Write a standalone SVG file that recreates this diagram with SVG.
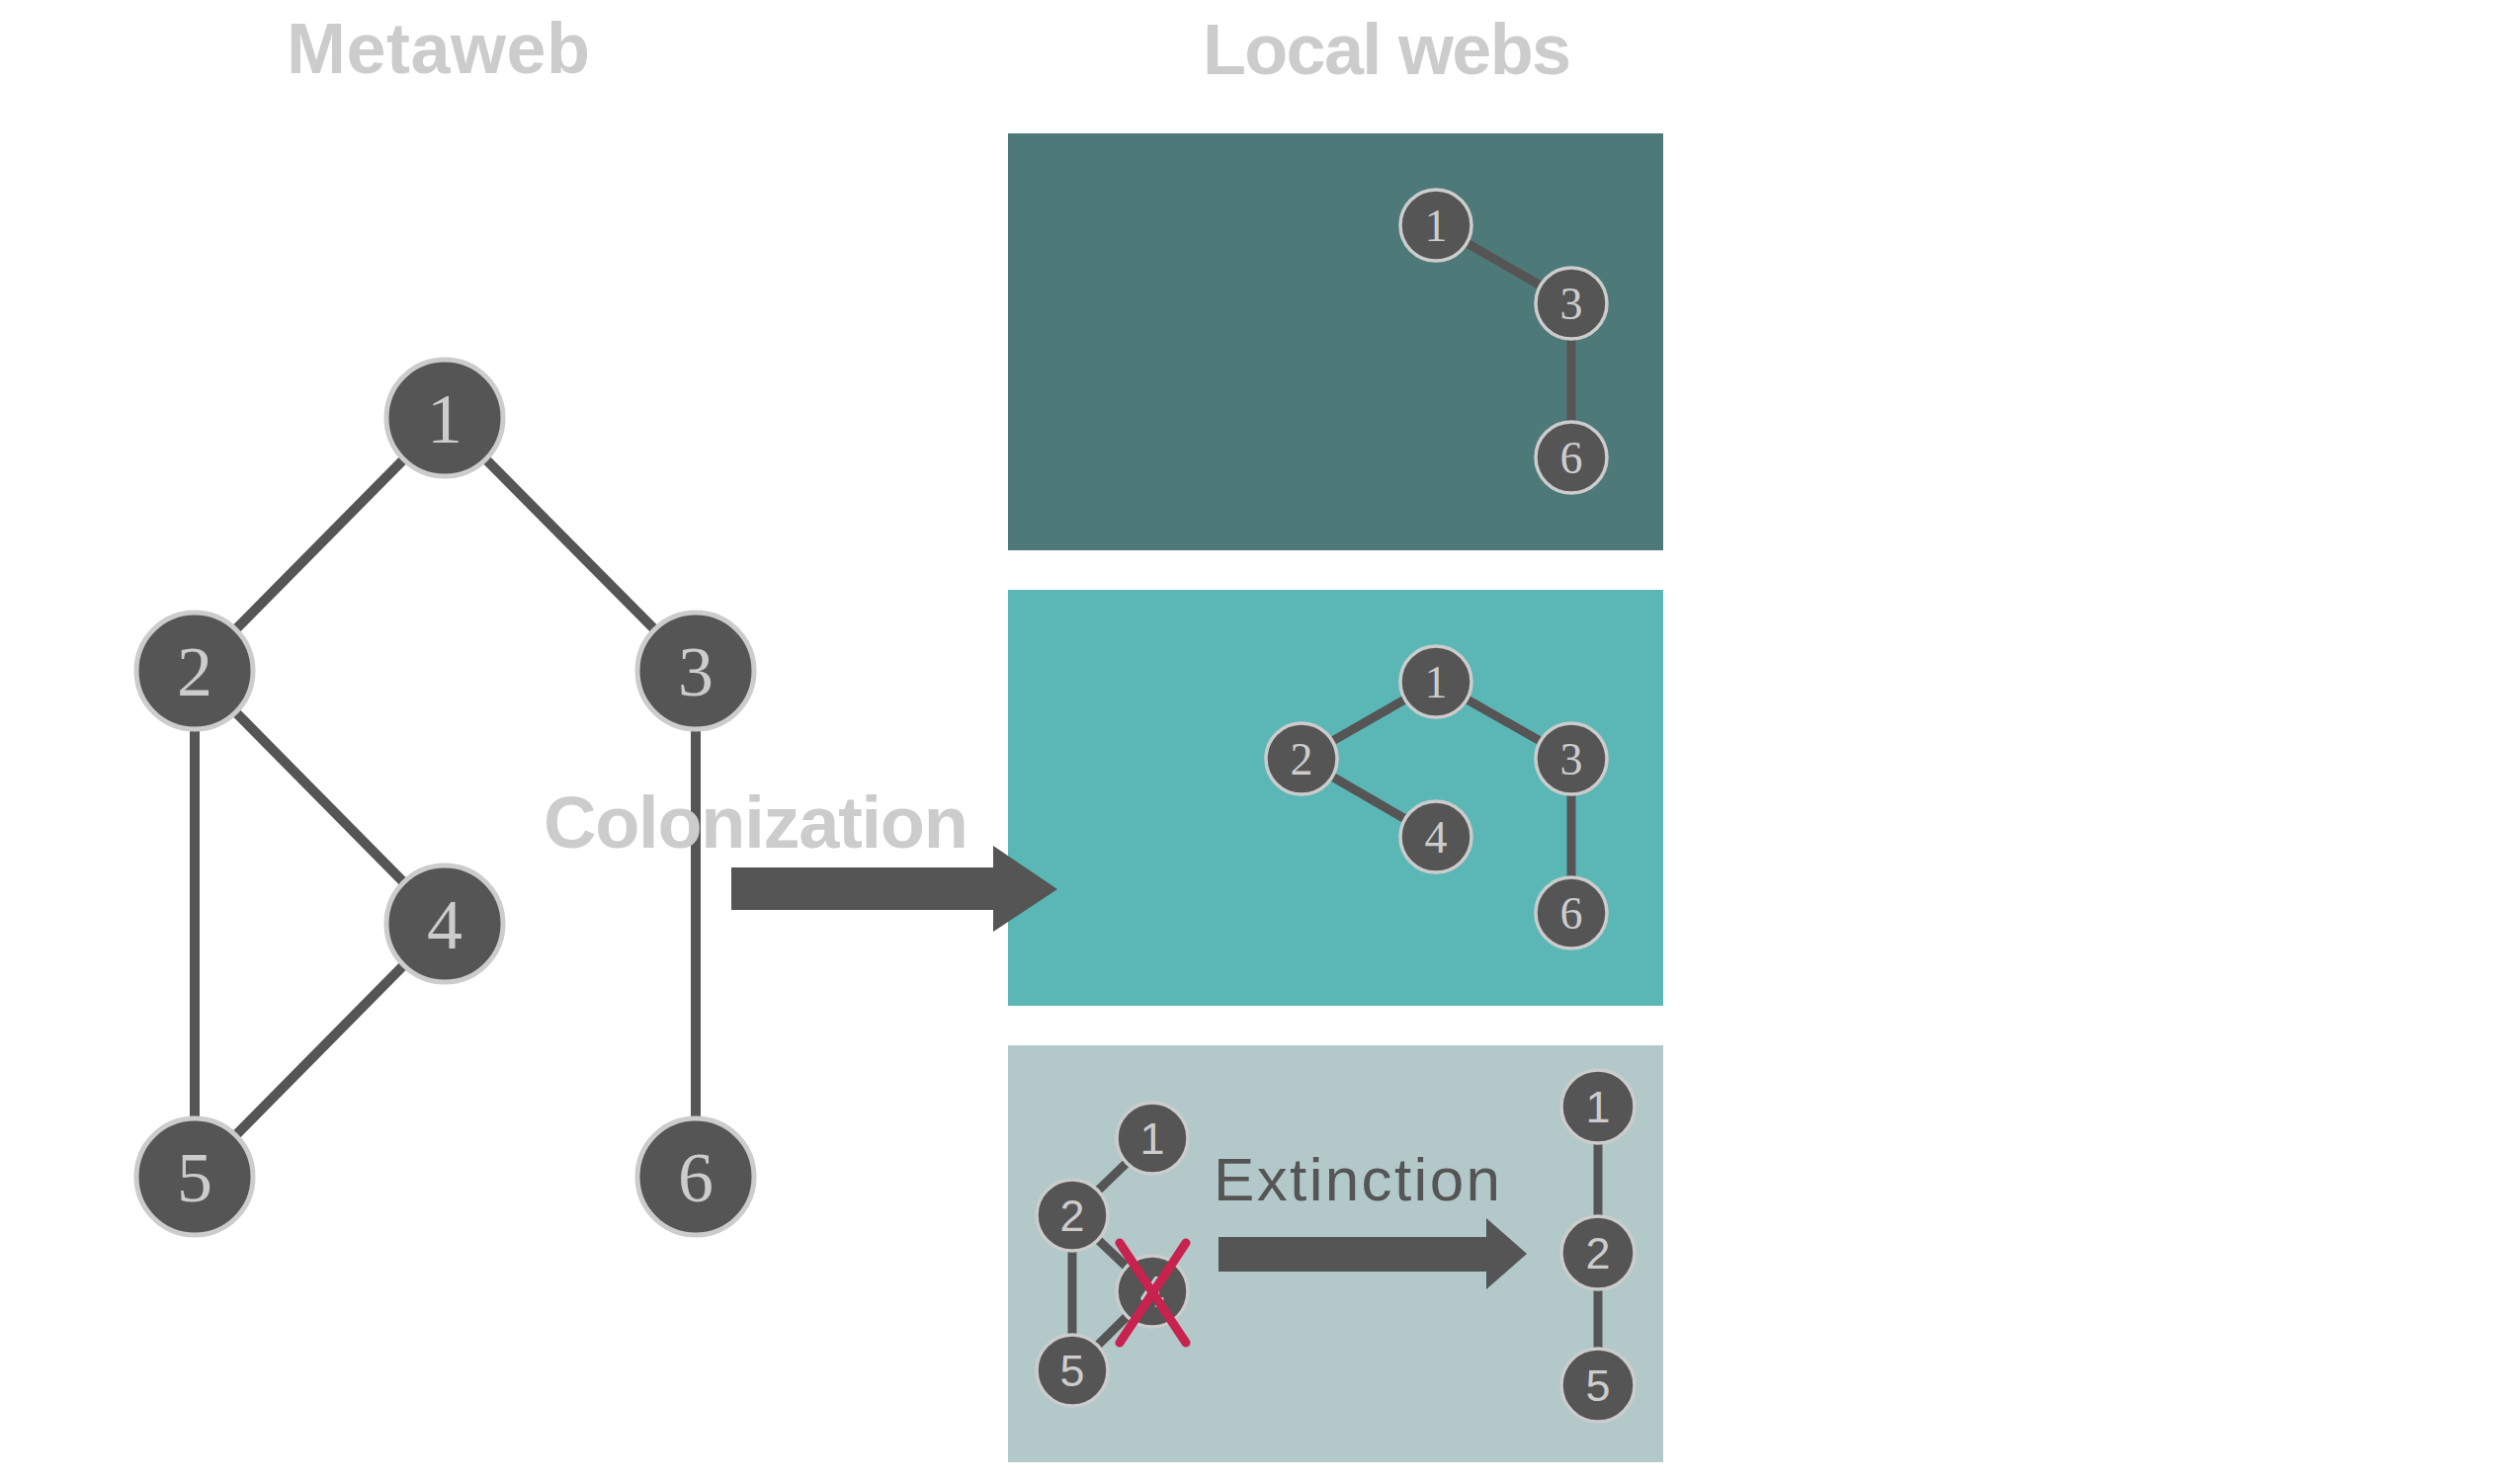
<svg xmlns="http://www.w3.org/2000/svg" width="2550" height="1500" viewBox="0 0 2550 1500">
<style>
.title{font-family:"Liberation Sans",Arial,sans-serif;fill:#cccccc;font-size:72px;font-weight:bold}
.edge{stroke:#555555;stroke-linecap:butt}
.me{stroke-width:10}
.le{stroke-width:9}
.node{fill:#555555;stroke:#cccccc}
.mn{stroke-width:5}
.ln{stroke-width:3.5}
.mlab{font-family:"Liberation Serif","Times New Roman",serif;font-size:72px;fill:#cccccc;text-anchor:middle}
.llab{font-family:"Liberation Serif","Times New Roman",serif;font-size:46px;fill:#cccccc;text-anchor:middle}
.slab{font-family:"Liberation Sans",Arial,sans-serif;font-size:45px;fill:#cccccc;text-anchor:middle}
.arrow{fill:#555555}
</style>
<rect width="2550" height="1500" fill="#ffffff"/>
<g id="titles">
<text class="title" x="290" y="74" textLength="307" lengthAdjust="spacing">Metaweb</text>
<text class="title" x="1217" y="75" textLength="373" lengthAdjust="spacing">Local webs</text>
</g>
<g id="panels">
<rect id="panel1" x="1020" y="135" width="663" height="422" fill="#4d7a78"/>
<rect id="panel2" x="1020" y="597" width="663" height="421" fill="#5bb7b6"/>
<rect id="panel3" x="1020" y="1058" width="663" height="422" fill="#b2c8c9"/>
</g>
<g id="connectors">
<line class="edge me" x1="450" y1="423" x2="197" y2="679"/>
<line class="edge me" x1="450" y1="423" x2="704" y2="679"/>
<line class="edge me" x1="197" y1="679" x2="450" y2="935"/>
<line class="edge me" x1="197" y1="679" x2="197" y2="1191"/>
<line class="edge me" x1="450" y1="935" x2="197" y2="1191"/>
<line class="edge me" x1="704" y1="679" x2="704" y2="1191"/>
<line class="edge le" x1="1453" y1="228" x2="1590" y2="307"/>
<line class="edge le" x1="1590" y1="307" x2="1590" y2="463"/>
<line class="edge le" x1="1453" y1="690" x2="1317" y2="768"/>
<line class="edge le" x1="1453" y1="690" x2="1590" y2="768"/>
<line class="edge le" x1="1317" y1="768" x2="1453" y2="847"/>
<line class="edge le" x1="1590" y1="768" x2="1590" y2="924"/>
<line class="edge le" x1="1166" y1="1152" x2="1085" y2="1230"/>
<line class="edge le" x1="1085" y1="1230" x2="1166" y2="1307"/>
<line class="edge le" x1="1085" y1="1230" x2="1085" y2="1387"/>
<line class="edge le" x1="1166" y1="1307" x2="1085" y2="1387"/>
<line class="edge le" x1="1617" y1="1120" x2="1617" y2="1268"/>
<line class="edge le" x1="1617" y1="1268" x2="1617" y2="1402"/>
<path class="arrow" d="M740 878 H1005 V856 L1070 900 L1005 943 V921 H740 Z"/>
<path class="arrow" d="M1233 1252 H1504 V1233 L1545 1269 L1504 1305 V1287 H1233 Z"/>
</g>
<g id="metaweb">
<g id="m1"><circle class="node mn" cx="450" cy="423" r="59"/><text class="mlab" x="450" y="448">1</text></g>
<g id="m2"><circle class="node mn" cx="197" cy="679" r="59"/><text class="mlab" x="197" y="704">2</text></g>
<g id="m3"><circle class="node mn" cx="704" cy="679" r="59"/><text class="mlab" x="704" y="704">3</text></g>
<g id="m4"><circle class="node mn" cx="450" cy="935" r="59"/><text class="mlab" x="450" y="960">4</text></g>
<g id="m5"><circle class="node mn" cx="197" cy="1191" r="59"/><text class="mlab" x="197" y="1216">5</text></g>
<g id="m6"><circle class="node mn" cx="704" cy="1191" r="59"/><text class="mlab" x="704" y="1216">6</text></g>
</g>
<g id="local1">
<g id="a1"><circle class="node ln" cx="1453" cy="228" r="36"/><text class="llab" x="1453" y="244">1</text></g>
<g id="a3"><circle class="node ln" cx="1590" cy="307" r="36"/><text class="llab" x="1590" y="323">3</text></g>
<g id="a6"><circle class="node ln" cx="1590" cy="463" r="36"/><text class="llab" x="1590" y="479">6</text></g>
</g>
<g id="local2">
<g id="b1"><circle class="node ln" cx="1453" cy="690" r="36"/><text class="llab" x="1453" y="706">1</text></g>
<g id="b2"><circle class="node ln" cx="1317" cy="768" r="36"/><text class="llab" x="1317" y="784">2</text></g>
<g id="b3"><circle class="node ln" cx="1590" cy="768" r="36"/><text class="llab" x="1590" y="784">3</text></g>
<g id="b4"><circle class="node ln" cx="1453" cy="847" r="36"/><text class="llab" x="1453" y="863">4</text></g>
<g id="b6"><circle class="node ln" cx="1590" cy="924" r="36"/><text class="llab" x="1590" y="940">6</text></g>
</g>
<g id="local3">
<g id="c1"><circle class="node ln" cx="1166" cy="1152" r="36"/><text class="slab" x="1166" y="1168">1</text></g>
<g id="c2"><circle class="node ln" cx="1085" cy="1230" r="36"/><text class="slab" x="1085" y="1246">2</text></g>
<g id="c4"><circle class="node ln" cx="1166" cy="1307" r="36"/><text class="slab" x="1166" y="1323">4</text></g>
<g id="c5"><circle class="node ln" cx="1085" cy="1387" r="36"/><text class="slab" x="1085" y="1403">5</text></g>
<g id="d1"><circle class="node ln" cx="1617" cy="1120" r="37"/><text class="slab" x="1617" y="1136">1</text></g>
<g id="d2"><circle class="node ln" cx="1617" cy="1268" r="37"/><text class="slab" x="1617" y="1284">2</text></g>
<g id="d5"><circle class="node ln" cx="1617" cy="1402" r="37"/><text class="slab" x="1617" y="1418">5</text></g>
<g id="cross" stroke="#c8234f" stroke-width="9" stroke-linecap="round">
<line x1="1133" y1="1258" x2="1200" y2="1359"/>
<line x1="1200" y1="1258" x2="1133" y2="1359"/>
</g>
</g>
<g id="labels">
<text class="title" x="550" y="858" textLength="430" lengthAdjust="spacing" style="font-size:74px">Colonization</text>
<text x="1228" y="1215" textLength="290" lengthAdjust="spacing" style="font-family:'Liberation Sans',Arial,sans-serif;font-size:62px;fill:#555555">Extinction</text>
</g>
</svg>
